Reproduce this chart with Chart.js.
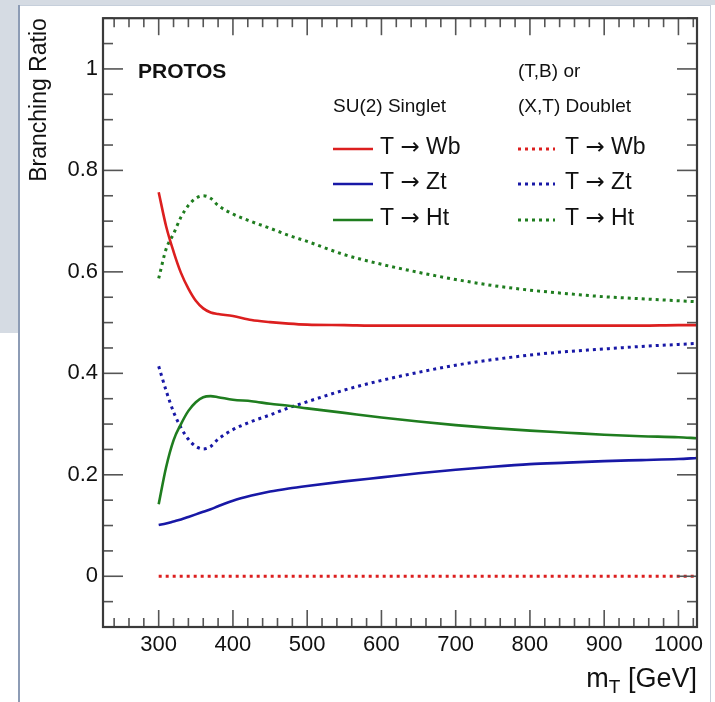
<!DOCTYPE html>
<html>
<head>
<meta charset="utf-8">
<script src="https://cdn.jsdelivr.net/npm/chart.js@4.4.0/dist/chart.umd.min.js"></script>
<style>
  html, body { margin: 0; padding: 0; background: #fff; }
  #wrap { width: 715px; height: 702px; }
</style>
</head>
<body>
<div id="wrap"><canvas id="chart" width="715" height="702"></canvas></div>
<script>
// top mass points (GeV)
var masses = [300, 310, 320, 330, 340, 350, 360, 370, 380, 400, 425, 450, 475, 500,
              550, 600, 650, 700, 750, 800, 850, 900, 950, 1000, 1025];

// SU(2) singlet
var singletWb = [0.757, 0.690, 0.640, 0.598, 0.567, 0.543, 0.528, 0.520, 0.517, 0.513, 0.505, 0.501, 0.498, 0.496,
                 0.495, 0.494, 0.494, 0.494, 0.494, 0.494, 0.494, 0.494, 0.494, 0.495, 0.495];
var singletZt = [0.101, 0.104, 0.108, 0.112, 0.117, 0.122, 0.127, 0.132, 0.138, 0.149, 0.159, 0.167, 0.173, 0.178,
                 0.187, 0.195, 0.203, 0.210, 0.216, 0.221, 0.224, 0.227, 0.229, 0.231, 0.233];
var singletHt = [0.142, 0.215, 0.268, 0.300, 0.326, 0.343, 0.353, 0.355, 0.353, 0.348, 0.345, 0.340, 0.336, 0.331,
                 0.322, 0.313, 0.305, 0.298, 0.292, 0.287, 0.283, 0.279, 0.276, 0.274, 0.272];

// (T,B) or (X,T) doublet
var doubletWb = [0, 0, 0, 0, 0, 0, 0, 0, 0, 0, 0, 0, 0, 0,
                 0, 0, 0, 0, 0, 0, 0, 0, 0, 0, 0];
var doubletZt = [0.414, 0.366, 0.324, 0.293, 0.270, 0.256, 0.251, 0.256, 0.270, 0.289, 0.305, 0.318, 0.332, 0.344,
                 0.367, 0.386, 0.402, 0.416, 0.427, 0.436, 0.443, 0.448, 0.453, 0.457, 0.459];
var doubletHt = [0.587, 0.645, 0.675, 0.708, 0.731, 0.745, 0.750, 0.745, 0.731, 0.714, 0.699, 0.686, 0.672, 0.660,
                 0.634, 0.615, 0.599, 0.585, 0.573, 0.564, 0.557, 0.551, 0.547, 0.543, 0.541];

var xTicks = [300, 400, 500, 600, 700, 800, 900, 1000];
var yTicks = [0, 0.2, 0.4, 0.6, 0.8, 1];
var yTickLabels = ['0', '0.2', '0.4', '0.6', '0.8', '1'];

var RED = '#dc1f1f', BLUE = '#1818a6', GREEN = '#1f7d1f';
var FONT = '"Liberation Sans", Arial, Helvetica, sans-serif';

function pts(arr) {
  return masses.map(function (m, i) { return { x: m, y: arr[i] }; });
}

function ds(label, arr, color, dotted) {
  return {
    label: label,
    data: pts(arr),
    borderColor: color,
    borderWidth: dotted ? 3 : 2.6,
    borderDash: dotted ? [3, 4] : [],
    borderCapStyle: 'butt',
    pointRadius: 0,
    fill: false,
    cubicInterpolationMode: 'monotone'
  };
}

var datasets = [
  ds('T \u2192 Wb', singletWb, RED, false),
  ds('T \u2192 Zt', singletZt, BLUE, false),
  ds('T \u2192 Ht', singletHt, GREEN, false),
  ds('T \u2192 Wb', doubletWb, RED, true),
  ds('T \u2192 Zt', doubletZt, BLUE, true),
  ds('T \u2192 Ht', doubletHt, GREEN, true)
];

function seg(c, x1, y1, x2, y2) {
  c.beginPath(); c.moveTo(x1, y1); c.lineTo(x2, y2); c.stroke();
}

// draw "T → Xy" with the arrow taken from DejaVu Sans (centred arrow glyph)
function drawLabel(c, text, x, y) {
  var parts = text.split('\u2192');
  var f1 = '23px ' + FONT, f2 = '23px "DejaVu Sans", sans-serif';
  c.font = f1; c.fillText(parts[0], x, y);
  x += c.measureText(parts[0]).width;
  c.font = f2; c.fillText('\u2192', x, y);
  x += c.measureText('\u2192').width;
  c.font = f1; c.fillText(parts[1], x, y);
}

var rootStyle = {
  id: 'rootStyle',
  beforeDraw: function (chart) {
    var c = chart.ctx;
    c.save();
    c.fillStyle = '#ffffff';
    c.fillRect(0, 0, 715, 702);
    c.fillStyle = '#d5dbe3';
    c.fillRect(0, 0, 715, 5);
    c.fillRect(0, 0, 18, 333);
    c.fillStyle = '#c6cfdb';
    c.fillRect(18, 5, 693, 1);
    c.fillRect(710, 5, 1, 697);
    c.fillStyle = '#8d9cb5';
    c.fillRect(18, 5, 2, 697);
    c.restore();
  },
  afterDraw: function (chart) {
    var c = chart.ctx, a = chart.chartArea, xs = chart.scales.x, ys = chart.scales.y;
    c.save();

    // inward ticks on all four sides
    c.strokeStyle = '#555';
    c.lineWidth = 1.6;
    for (var v = 240; v <= 1020; v += 20) {
      var px = xs.getPixelForValue(v);
      var L = (v % 100 === 0) ? 17 : 9;
      seg(c, px, a.bottom, px, a.bottom - L);
      seg(c, px, a.top, px, a.top + L);
    }
    for (var k = -2; k <= 22; k++) {
      var py = ys.getPixelForValue(k * 0.05);
      var Ly = (k % 4 === 0) ? 20 : 10;
      seg(c, a.left, py, a.left + Ly, py);
      seg(c, a.right, py, a.right - Ly, py);
    }
    // frame
    c.strokeStyle = '#3a3a3a';
    c.lineWidth = 2.2;
    c.strokeRect(a.left, a.top, a.right - a.left, a.bottom - a.top);

    // x axis title m_T [GeV]
    c.fillStyle = '#111';
    c.textBaseline = 'alphabetic';
    c.textAlign = 'left';
    var big = '27px ' + FONT, small = '19px ' + FONT;
    c.font = big;
    var wm = c.measureText('m').width, wr = c.measureText(' [GeV]').width;
    c.font = small;
    var wt = c.measureText('T').width;
    var x0 = a.right - (wm + wt + wr), base = 687;
    c.font = big; c.fillText('m', x0, base);
    c.font = small; c.fillText('T', x0 + wm, base + 6);
    c.font = big; c.fillText(' [GeV]', x0 + wm + wt, base);

    // labels inside the frame
    c.textBaseline = 'middle';
    c.font = 'bold 21px ' + FONT;
    c.fillText('PROTOS', 138, 72);
    c.font = '19px ' + FONT;
    c.fillText('SU(2) Singlet', 333, 107);
    c.fillText('(T,B) or', 518, 72);
    c.fillText('(X,T) Doublet', 518, 107);

    // legend
    var rows = [149, 184, 220];
    var cols = [{ x1: 333, x2: 373, tx: 380 }, { x1: 518, x2: 555, tx: 565 }];
    chart.data.datasets.forEach(function (d, i) {
      var col = cols[Math.floor(i / 3)], y = rows[i % 3];
      c.strokeStyle = d.borderColor;
      c.lineWidth = d.borderWidth;
      c.setLineDash(d.borderDash);
      seg(c, col.x1, y, col.x2, y);
      c.setLineDash([]);
      c.fillStyle = '#111';
      drawLabel(c, d.label, col.tx, y - 1);
    });
    c.restore();
  }
};

new Chart(document.getElementById('chart'), {
  type: 'line',
  data: { datasets: datasets },
  options: {
    responsive: false,
    animation: false,
    layout: { padding: { top: 15, right: 18, left: 0, bottom: 0 } },
    plugins: { legend: { display: false }, tooltip: { enabled: false } },
    scales: {
      x: {
        type: 'linear',
        min: 225,
        max: 1025,
        afterBuildTicks: function (scale) {
          scale.ticks = xTicks.map(function (v) { return { value: v }; });
        },
        afterFit: function (scale) { scale.height = 75; },
        grid: { display: false, drawTicks: false },
        border: { display: false },
        ticks: {
          padding: 5,
          maxRotation: 0,
          autoSkip: false,
          color: '#111',
          font: { family: FONT, size: 22 },
          callback: function (v) { return String(v); }
        }
      },
      y: {
        type: 'linear',
        min: -0.1,
        max: 1.1,
        afterBuildTicks: function (scale) {
          scale.ticks = yTicks.map(function (v) { return { value: v }; });
        },
        afterFit: function (scale) { scale.width = 103; },
        grid: { display: false, drawTicks: false },
        border: { display: false },
        title: {
          display: true,
          text: 'Branching Ratio',
          align: 'end',
          color: '#111',
          font: { family: FONT, size: 23 },
          padding: { top: 26, bottom: 0 }
        },
        ticks: {
          padding: 5,
          autoSkip: false,
          color: '#111',
          font: { family: FONT, size: 22 },
          callback: function (v) {
            var i = yTicks.indexOf(v);
            return i >= 0 ? yTickLabels[i] : '';
          }
        }
      }
    }
  },
  plugins: [rootStyle]
});
</script>
</body>
</html>
